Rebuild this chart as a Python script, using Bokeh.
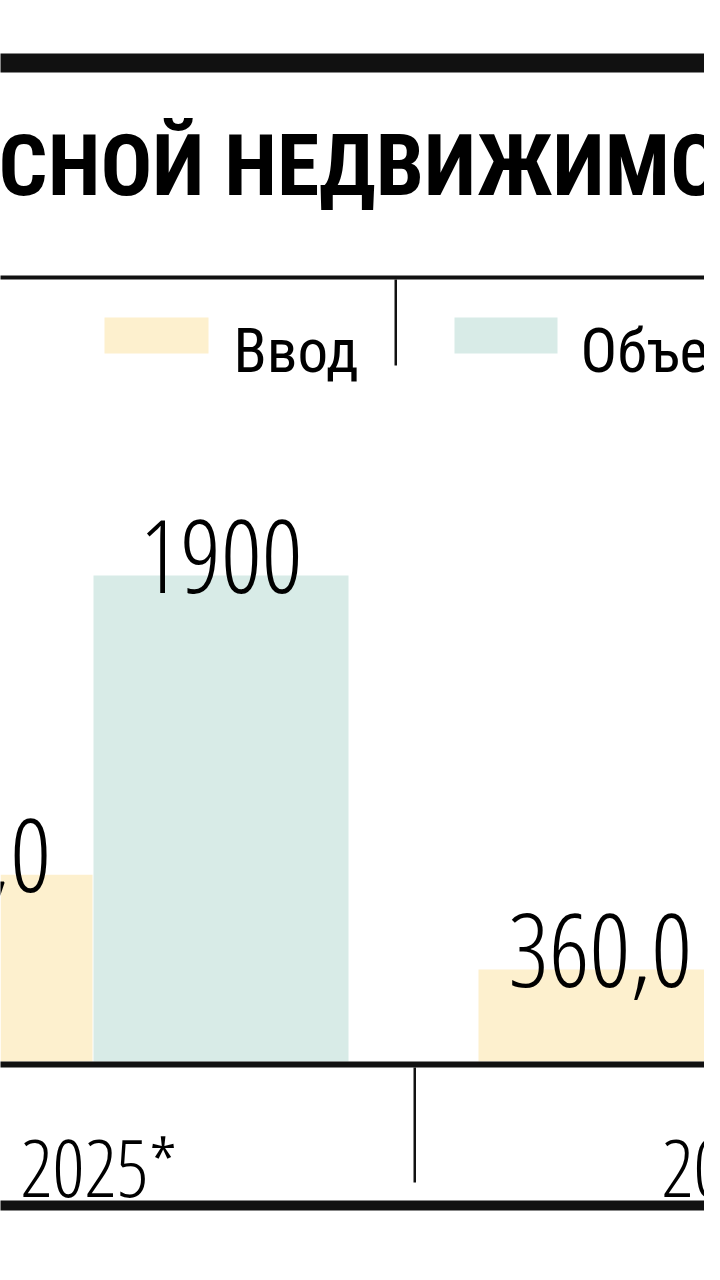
from bokeh.plotting import figure
from bokeh.models import Range1d
from bokeh.embed import file_html
from bokeh.resources import INLINE
from bokeh.core.properties import value

# ---- data ----
years = ["2025*", "2026*"]
series = ["Ввод", "Объем сделок"]
vvod = [730, 360]            # тыс. кв. м
obem = [1900]                # only the 2025* value is shown
vvod_labels = ["730,0", "360,0"]
obem_labels = ["1900"]
title = "ОФИСНОЙ НЕДВИЖИМОСТИ"

colors = {"Ввод": "#FDF0CE", "Объем сделок": "#D8EBE7"}

W, H = 704, 1264
p = figure(width=W, height=H, output_backend="svg", toolbar_location=None,
           x_range=Range1d(0, W), y_range=Range1d(0, H), min_border=0,
           outline_line_color=None, background_fill_color="white")
p.axis.visible = False
p.grid.visible = False

# value scale: 0 at baseline, px per unit
ppu = 486 / 1900.0
base_fy = 203
p.extra_y_ranges = {"val": Range1d(-base_fy / ppu, (H - base_fy) / ppu)}
# group scale: group 0 centre at fx 92.5, 641 px per group
gpx = 641.0
g0 = 92.5
p.extra_x_ranges = {"grp": Range1d(-g0 / gpx, (W - g0) / gpx)}

def sx(x):
    return x - 8
def sy(y):
    return 1272 - y

ink = "#111111"
# top thick rule
p.quad(left=[-10], right=[W + 10], bottom=[sy(80)], top=[sy(61)], fill_color=ink, line_color=None)
# title (cropped as in the source)
p.text(x=[sx(-160)], y=[sy(173)], text=[title],
       text_font=value("Roboto Condensed"),
       text_font_style="bold", text_font_size="86px", text_baseline="alphabetic",
       text_color="black")
# thin rule under title
p.quad(left=[-10], right=[W + 10], bottom=[sy(287)], top=[sy(283)], fill_color=ink, line_color=None)
# legend
p.quad(left=[sx(112), sx(462)], right=[sx(216), sx(565)], bottom=[sy(361)] * 2, top=[sy(325)] * 2,
       fill_color=[colors[s] for s in series], line_color=None)
p.text(x=[sx(241), sx(588)], y=[sy(358)] * 2, text=series, text_font=value("Roboto Condensed"),
       text_font_size="61px", text_baseline="alphabetic", text_color="black")
p.quad(left=[sx(402)], right=[sx(404.5)], bottom=[sy(373)], top=[sy(287)], fill_color=ink, line_color=None)

# bars
bw = 255 / gpx
off = 128 / gpx
xv = [i - off for i in range(len(vvod))]
xo = [i + off for i in range(len(obem))]
p.vbar(x=xv, top=vvod, bottom=0, width=bw, fill_color=colors["Ввод"], line_color=None,
       x_range_name="grp", y_range_name="val")
p.vbar(x=xo, top=obem, bottom=0, width=bw, fill_color=colors["Объем сделок"], line_color=None,
       x_range_name="grp", y_range_name="val")

gap = 19 / ppu
num_font = value("Open Sans Condensed Light")
p.text(x=[x - 6 / gpx for x in xv], y=[v + gap for v in vvod], text=vvod_labels, text_font=num_font,
       text_font_size="102px", text_align="center", text_baseline="alphabetic",
       text_color="black", x_range_name="grp", y_range_name="val")
p.text(x=xo, y=[v + gap for v in obem], text=obem_labels, text_font=num_font,
       text_font_size="102px", text_align="center", text_baseline="alphabetic",
       text_color="black", x_range_name="grp", y_range_name="val")

# baseline + category row
p.quad(left=[-10], right=[W + 10], bottom=[sy(1075)], top=[sy(1069)], fill_color=ink, line_color=None)
p.quad(left=[sx(421)], right=[sx(423.5)], bottom=[sy(1190)], top=[sy(1075)], fill_color=ink, line_color=None)
p.text(x=[i + 6 / gpx for i in range(len(years))], y=[-(1173 - 1069) / ppu] * len(years), text=years,
       text_font=num_font, text_font_size="80px", text_align="center", text_baseline="alphabetic",
       text_color="black", x_range_name="grp", y_range_name="val")
p.quad(left=[-10], right=[W + 10], bottom=[sy(1218)], top=[sy(1208)], fill_color=ink, line_color=None)

open("out.html", "w").write(file_html(p, INLINE))
